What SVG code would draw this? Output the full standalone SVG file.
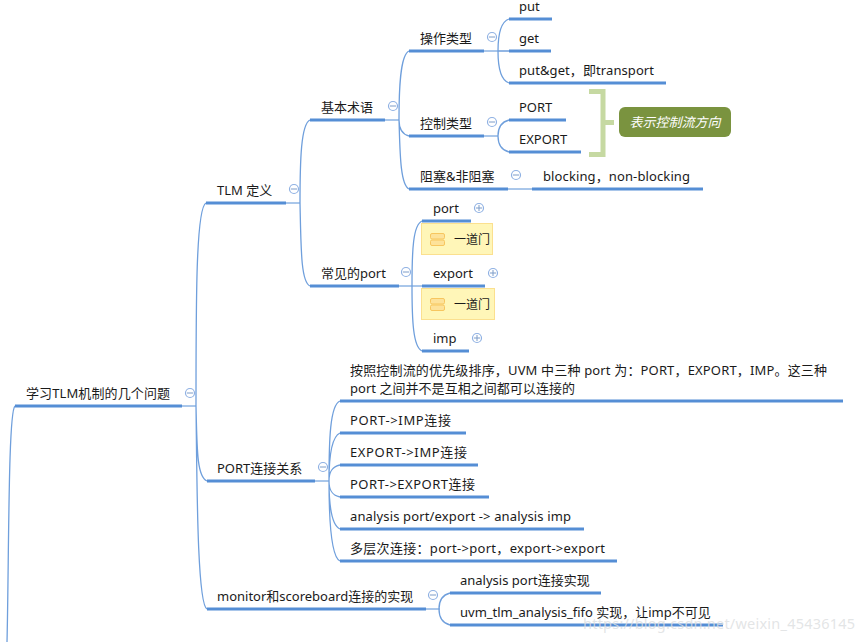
<svg xmlns="http://www.w3.org/2000/svg" width="864" height="642" viewBox="0 0 864 642">
<style>
text{font-family:"Noto Sans","Noto Sans CJK SC",sans-serif;font-size:13px;fill:#1a1a1a}
.u{stroke:#558ed5;stroke-width:3;fill:none}
.t{stroke:#558ed5;stroke-width:1;fill:none}
.c{stroke:#6f9fdc;stroke-width:1.3;fill:none}
.m{fill:#fff;stroke:#8fb1e3;stroke-width:1.2}
.s{stroke:#7d9cc8;stroke-width:1}
.y{fill:#fff6b8;stroke:#fbe08f;stroke-width:1}
.i{fill:#fde29a;stroke:#f7c65f;stroke-width:1}
</style>
<rect width="864" height="642" fill="#fff"/>
<g id="connectors">
<path class="c" d="M15 406C8 412 9 560 7 642"/>
<path class="t" d="M182 406H196"/>
<path class="c" d="M196 406C196 300 196 208 206 203M196 406C197 450 197 477 207 481M196 406C197 480 197 604 207 609"/>
<path class="t" d="M286 203H300"/>
<path class="c" d="M300 203C300 160 301 124 310 120M300 203C301 250 301 282 310 286"/>
<path class="t" d="M385 120H399"/>
<path class="c" d="M399 120C399 90 400 55 409 51M399 120C399 128 401 134 409 136M399 120C400 150 400 185 409 189"/>
<path class="t" d="M484 51H498"/>
<path class="c" d="M498 51C498 35 500 22 509 19M498 51H509M498 51C498 67 500 80 509 83"/>
<path class="t" d="M484 136H498"/>
<path class="c" d="M498 136C498 128 501 122 509 120M498 136C498 144 501 150 509 152"/>
<path class="t" d="M508 189H532"/>
<path class="t" d="M399 286H422"/>
<path class="c" d="M412 286C412 250 413 225 422 221M412 286C412 320 413 347 422 351"/>
<path class="t" d="M315 481H329"/>
<path class="c" d="M329 481C329 440 330 405 340 401M329 481C329 460 331 437 340 433M329 481C329 473 331 467 340 465M329 481C329 489 331 495 340 497M329 481C329 500 331 525 340 529M329 481C329 520 331 557 340 561"/>
<path class="t" d="M426 609H440"/>
<path class="c" d="M439 609C439 600 442 595 450 593M439 609C439 618 442 623 450 625"/>
</g>
<g id="n-root"><text x="26" y="398" textLength="144">学习TLM机制的几个问题</text><path class="u" d="M15 406H182"/><circle class="m" cx="190" cy="393" r="4.5"/><path class="s" d="M187 393H193"/></g>
<g id="n-tlm"><text x="217" y="195">TLM 定义</text><path class="u" d="M206 203H286"/><circle class="m" cx="294" cy="189" r="4.5"/><path class="s" d="M291 189H297"/></g>
<g id="n-term"><text x="321" y="112">基本术语</text><path class="u" d="M310 120H385"/><circle class="m" cx="393" cy="106" r="4.5"/><path class="s" d="M390 106H396"/></g>
<g id="n-op"><text x="420" y="43">操作类型</text><path class="u" d="M409 51H484"/><circle class="m" cx="492" cy="37" r="4.5"/><path class="s" d="M489 37H495"/></g>
<g id="n-put"><text x="519" y="11">put</text><path class="u" d="M509 19H552"/></g>
<g id="n-get"><text x="519" y="43">get</text><path class="u" d="M509 51H551"/></g>
<g id="n-putget"><text x="519" y="75" textLength="135">put&amp;get，即transport</text><path class="u" d="M509 83H666"/></g>
<g id="n-ctrl"><text x="420" y="128">控制类型</text><path class="u" d="M409 136H484"/><circle class="m" cx="492" cy="122" r="4.5"/><path class="s" d="M489 122H495"/></g>
<g id="n-PORT"><text x="519" y="112">PORT</text><path class="u" d="M509 120H566"/></g>
<g id="n-EXPORT"><text x="519" y="144">EXPORT</text><path class="u" d="M509 152H581"/></g>
<g id="n-bracket"><path d="M589 91.500H603V154.500H589M603 122.500H614" fill="none" stroke="#c6d9a2" stroke-width="5"/></g>
<g id="n-note"><rect x="619" y="107" width="112" height="30" rx="6" fill="#7a933f"/><text x="675" y="127" text-anchor="middle" font-style="italic" style="fill:#fff">表示控制流方向</text></g>
<g id="n-block"><text x="420" y="181">阻塞&amp;非阻塞</text><path class="u" d="M409 189H508"/><circle class="m" cx="516" cy="175" r="4.5"/><path class="s" d="M513 175H519"/></g>
<g id="n-blocking"><text x="543" y="181" textLength="147">blocking，non-blocking</text><path class="u" d="M532 189H703"/></g>
<g id="n-common"><text x="321" y="278">常见的port</text><path class="u" d="M310 286H399"/><circle class="m" cx="406" cy="272" r="4.5"/><path class="s" d="M403 272H409"/></g>
<g id="n-port"><text x="433" y="213">port</text><path class="u" d="M422 221H471"/><circle class="m" cx="479" cy="208" r="4.5"/><path class="s" d="M476 208H482M479 205V211"/></g>
<g id="n-door1"><rect class="y" x="421.500" y="223.500" width="71" height="31"/><rect class="i" x="430.500" y="233.500" width="14" height="5.500" rx="1.500"/><rect class="i" x="430.500" y="240" width="14" height="5.500" rx="1.500"/><text x="454" y="244" style="font-size:12px">一道门</text></g>
<g id="n-export"><text x="433" y="278">export</text><path class="u" d="M422 286H485"/><circle class="m" cx="493" cy="273" r="4.5"/><path class="s" d="M490 273H496M493 270V276"/></g>
<g id="n-door2"><rect class="y" x="421.500" y="288.500" width="73" height="31"/><rect class="i" x="430.500" y="298.500" width="14" height="5.500" rx="1.500"/><rect class="i" x="430.500" y="305" width="14" height="5.500" rx="1.500"/><text x="454" y="309" style="font-size:12px">一道门</text></g>
<g id="n-imp"><text x="433" y="343">imp</text><path class="u" d="M422 351H469"/><circle class="m" cx="477" cy="338" r="4.500"/><path class="s" d="M474 338H480M477 335V341"/></g>
<g id="n-rel"><text x="217" y="473">PORT连接关系</text><path class="u" d="M207 481H315"/><circle class="m" cx="323" cy="467" r="4.5"/><path class="s" d="M320 467H326"/></g>
<g id="n-desc"><text x="350" y="375" textLength="477">按照控制流的优先级排序，UVM 中三种 port 为：PORT，EXPORT，IMP。这三种</text><text x="350" y="393" textLength="225">port 之间并不是互相之间都可以连接的</text><path class="u" d="M340 401H843"/></g>
<g id="n-p-i"><text x="350" y="425" textLength="101">PORT-&gt;IMP连接</text><path class="u" d="M340 433H466"/></g>
<g id="n-e-i"><text x="350" y="457" textLength="117">EXPORT-&gt;IMP连接</text><path class="u" d="M340 465H478"/></g>
<g id="n-p-e"><text x="350" y="489" textLength="125">PORT-&gt;EXPORT连接</text><path class="u" d="M340 497H489"/></g>
<g id="n-ana"><text x="350" y="521" textLength="221">analysis port/export -&gt; analysis imp</text><path class="u" d="M340 529H584"/></g>
<g id="n-multi"><text x="350" y="553" textLength="255">多层次连接：port-&gt;port，export-&gt;export</text><path class="u" d="M340 561H617"/></g>
<g id="n-mon"><text x="217" y="601">monitor和scoreboard连接的实现</text><path class="u" d="M207 609H426"/><circle class="m" cx="433" cy="595" r="4.5"/><path class="s" d="M430 595H436"/></g>
<g id="n-apc"><text x="460" y="585">analysis port连接实现</text><path class="u" d="M450 593H601"/></g>
<g id="n-fifo"><text x="460" y="617">uvm_tlm_analysis_fifo 实现，让imp不可见</text><path class="u" d="M450 625H723"/></g>
<text x="583" y="629" textLength="272" style="font-size:14.500px;fill:#dcdee0;fill-opacity:.8">https://blog.csdn.net/weixin_45436145</text>
</svg>
